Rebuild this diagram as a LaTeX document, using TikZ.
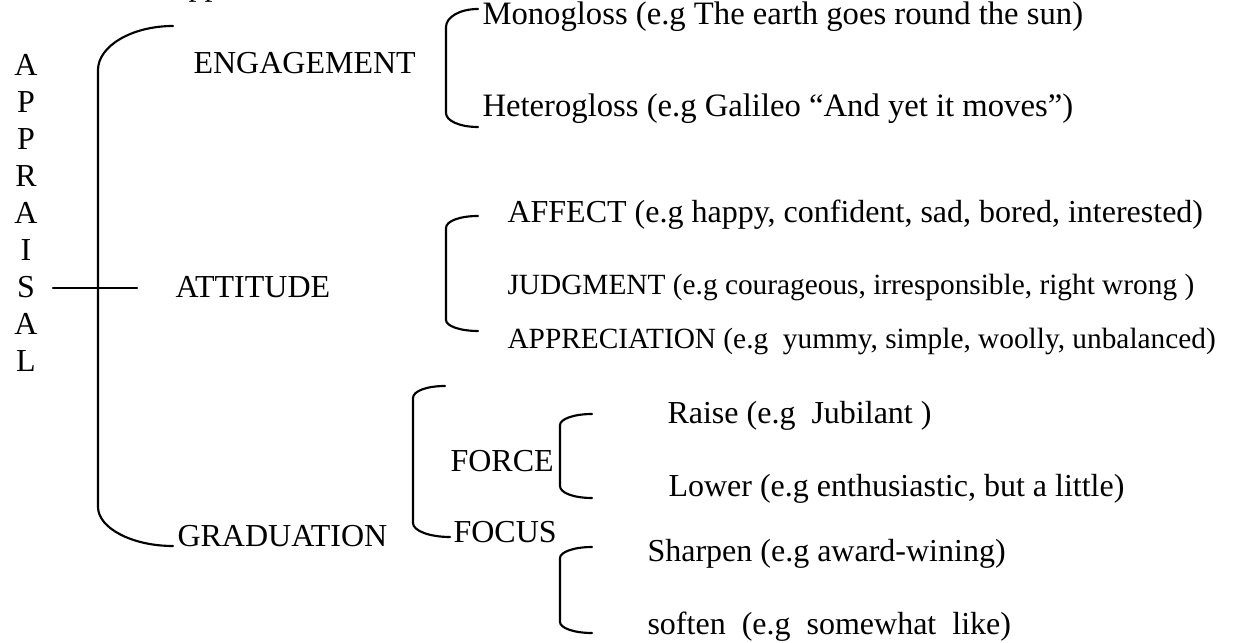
\documentclass[tikz,border=0pt]{standalone}
\usepackage{fontspec}
\setmainfont{Liberation Serif}
\begin{document}
\begin{tikzpicture}[x=0.375pt,y=-0.375pt,
  lbl/.style={inner sep=0pt, anchor=base west, font=\fontsize{12}{14}\selectfont},
  lblwide/.style={inner sep=0pt, anchor=base west, font=\fontsize{12.25}{14}\selectfont},
  lblsm/.style={inner sep=0pt, anchor=base west, font=\fontsize{11}{13}\selectfont},
  letter/.style={inner sep=0pt, anchor=base, font=\fontsize{12}{14}\selectfont},
  brk/.style={line width=0.8pt, line cap=round}]
\useasboundingbox (0,0) rectangle (1240,643);
\begin{scope}
\clip (0,0) rectangle (1240,643);
\node[lbl] (top) at (188,-4) {pp};
\end{scope}
% vertical APPRAISAL
\foreach \l [count=\i] in {A,P,P,R,A,I,S,A,L}
  \node[letter] (a\i) at (26,{76+37*(\i-1)}) {\l};
% first level
\node[lbl] (eng) at (193,74) {ENGAGEMENT};
\node[lbl] (att) at (175,298) {ATTITUDE};
\node[lbl] (grad) at (177,546) {GRADUATION};
% engagement
\node[lblwide] (mono) at (482,25) {Monogloss (e.g The earth goes round the sun)};
\node[lblwide] (hetero) at (482,117) {Heterogloss (e.g Galileo “And yet it moves”)};
% attitude
\node[lbl] (affect) at (507,223) {AFFECT (e.g happy, confident, sad, bored, interested)};
\node[lblsm] (judg) at (507,295) {JUDGMENT (e.g courageous, irresponsible, right wrong )};
\node[lblsm] (appr) at (507,349) {APPRECIATION (e.g\ \ yummy, simple, woolly, unbalanced)};
% graduation
\node[lbl] (force) at (450,472) {FORCE};
\node[lbl] (focus) at (453,543) {FOCUS};
\node[lbl] (raise) at (667,424) {Raise (e.g\ \ Jubilant )};
\node[lbl] (lower) at (668,497) {Lower (e.g enthusiastic, but a little)};
\node[lbl] (sharp) at (647,562) {Sharpen (e.g award-wining)};
\node[lbl] (soft) at (647,634) {soften\ \ (e.g\ \ somewhat\ \ like)};
% coordinates
\coordinate (bT) at (173,26); \coordinate (bV1) at (98,70);
\coordinate (bV2) at (98,507); \coordinate (bB) at (173,546);
\coordinate (cL) at (53,288); \coordinate (cR) at (137,288);
\coordinate (eT) at (478,9); \coordinate (eV1) at (446,27);
\coordinate (eV2) at (446,113); \coordinate (eB) at (478,127);
\coordinate (aT) at (478,216); \coordinate (aV1) at (446,228);
\coordinate (aV2) at (446,320); \coordinate (aB) at (478,331);
\coordinate (gT) at (445,386); \coordinate (gV1) at (413,398);
\coordinate (gV2) at (413,523); \coordinate (gB) at (450,537);
\coordinate (fT) at (592,414); \coordinate (fV1) at (560,425);
\coordinate (fV2) at (560,486); \coordinate (fB) at (592,498);
\coordinate (oT) at (592,547); \coordinate (oV1) at (560,558);
\coordinate (oV2) at (560,622); \coordinate (oB) at (592,633);
% brackets
\draw[brk] (bT) .. controls +(-41,0) and +(0,-24) .. (bV1) -- (bV2)
  .. controls +(0,21) and +(-41,0) .. (bB);
\draw[brk] (cL) -- (cR);
\draw[brk] (eT) .. controls +(-18,0) and +(0,-10) .. (eV1) -- (eV2)
  .. controls +(0,8) and +(-18,0) .. (eB);
\draw[brk] (aT) .. controls +(-18,0) and +(0,-7) .. (aV1) -- (aV2)
  .. controls +(0,6) and +(-18,0) .. (aB);
\draw[brk] (gT) .. controls +(-18,0) and +(0,-7) .. (gV1) -- (gV2)
  .. controls +(0,8) and +(-20,0) .. (gB);
\draw[brk] (fT) .. controls +(-18,0) and +(0,-6) .. (fV1) -- (fV2)
  .. controls +(0,7) and +(-18,0) .. (fB);
\draw[brk] (oT) .. controls +(-18,0) and +(0,-6) .. (oV1) -- (oV2)
  .. controls +(0,6) and +(-18,0) .. (oB);
\end{tikzpicture}
\end{document}
